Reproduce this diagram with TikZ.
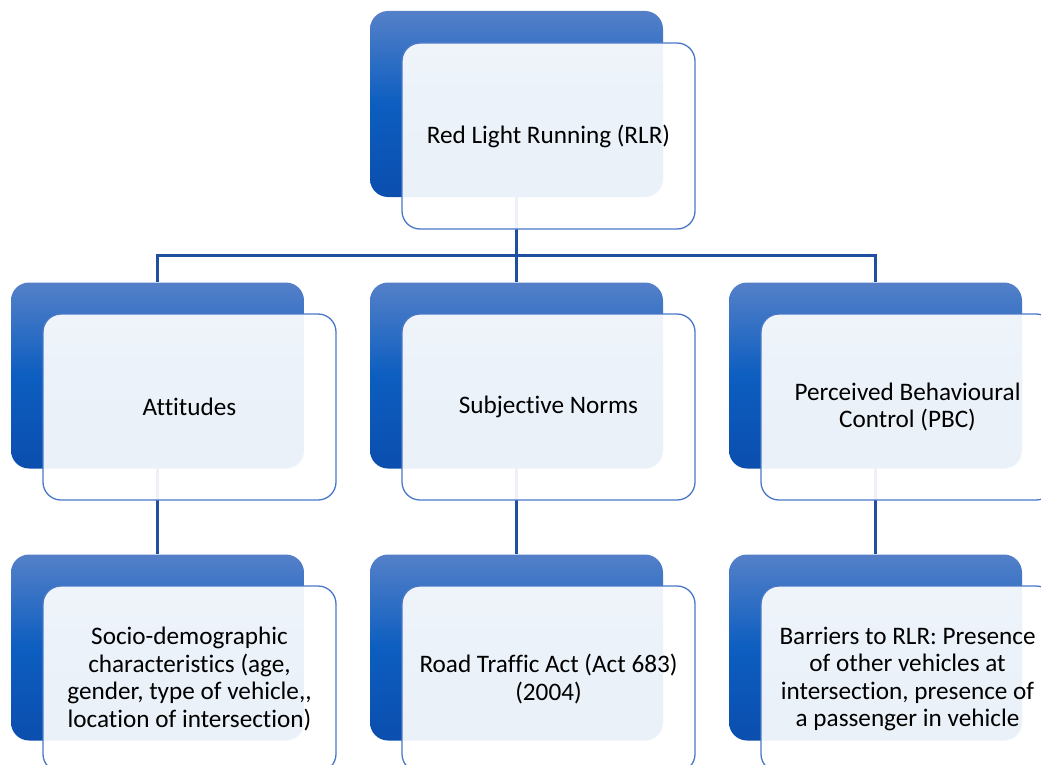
\documentclass[tikz,border=0pt]{standalone}
\usepackage{fontspec}
\setmainfont{Carlito}[Ligatures={TeXOff,NoCommon}]
\begin{document}
\begin{tikzpicture}[x=1pt,y=1pt,
  backbox/.style={rectangle,rounded corners=18pt,minimum width=293pt,minimum height=186pt,
    top color=bluetop,bottom color=bluebot,middle color=bluemid,draw=none,inner sep=0pt},
  frontbox/.style={rectangle,rounded corners=18pt,minimum width=293pt,minimum height=186pt,
    fill=white,fill opacity=0.92,text opacity=1,draw=frontedge,line width=1.3pt,inner sep=0pt,
    align=center,font=\fontsize{25.2}{27.5}\selectfont},
  conn/.style={draw=connblue,line width=3pt}]
\definecolor{bluetop}{HTML}{5580C8}
\definecolor{bluemid}{HTML}{0C5EC0}
\definecolor{bluebot}{HTML}{0B4EAE}
\definecolor{frontedge}{HTML}{4A78C8}
\definecolor{connblue}{HTML}{1F50A0}
\useasboundingbox (0,0) rectangle (1041,-765);
% back boxes
\node[backbox] (rlrB) at (516.5,-104) {};
\node[backbox] (attB) at (157.5,-375.5) {};
\node[backbox] (snB) at (516.5,-375.5) {};
\node[backbox] (pbcB) at (875.5,-375.5) {};
\node[backbox] (sdB) at (157.5,-647.5) {};
\node[backbox] (rtaB) at (516.5,-647.5) {};
\node[backbox] (barB) at (875.5,-647.5) {};
% connectors
\coordinate (bus) at (516.5,-255);
\draw[conn] (rlrB.south) -- (bus);
\draw[conn] (attB.north) |- (bus) -| (pbcB.north);
\draw[conn] (bus) -- (snB.north);
\draw[conn] (attB.south) -- (sdB.north);
\draw[conn] (snB.south) -- (rtaB.north);
\draw[conn] (pbcB.south) -- (barB.north);
% front boxes
\node[frontbox] (rlr) at (548.5,-136) {Red Light Running (RLR)};
\node[frontbox] (att) at (189.5,-407) {Attitudes};
\node[frontbox] (sn) at (548.5,-407) {Subjective Norms};
\node[frontbox] (pbc) at (907.5,-407) {Perceived Behavioural\\Control (PBC)};
\node[frontbox] (sd) at (189.5,-679) {Socio-demographic\\characteristics (age,\\gender, type of vehicle,,\\location of intersection)};
\node[frontbox] (rta) at (548.5,-679) {Road Traffic Act (Act 683)\\(2004)};
\node[frontbox] (bar) at (907.5,-679) {Barriers to RLR: Presence\\of other vehicles at\\intersection, presence of\\a passenger in vehicle};
\end{tikzpicture}
\end{document}
